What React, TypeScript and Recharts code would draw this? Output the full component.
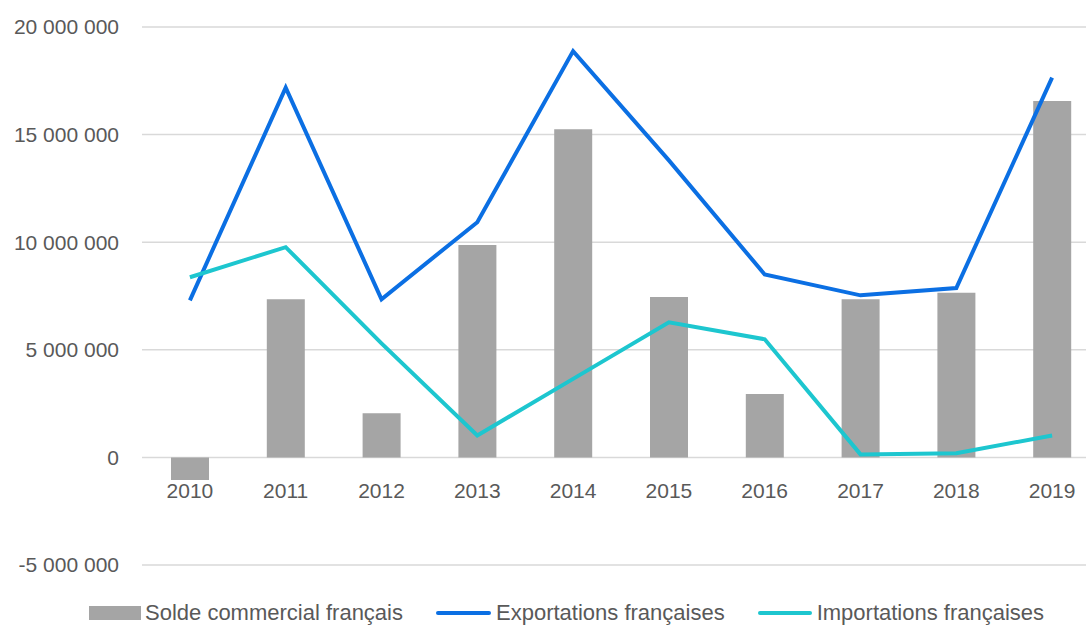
import React from "react";
import { ComposedChart, Bar, Line, XAxis, YAxis, CartesianGrid, Legend } from "recharts";

const years = ["2010", "2011", "2012", "2013", "2014", "2015", "2016", "2017", "2018", "2019"];
const solde = [-1050000, 7350000, 2050000, 9870000, 15250000, 7450000, 2950000, 7350000, 7650000, 16560000];
const exportations = [7300000, 17180000, 7350000, 10930000, 18880000, 13800000, 8500000, 7530000, 7870000, 17650000];
const importations = [8370000, 9770000, 5300000, 1020000, 3650000, 6280000, 5490000, 140000, 190000, 1020000];
const yTicks = [-5000000, 0, 5000000, 10000000, 15000000, 20000000];
const seriesNames = ["Solde commercial français", "Exportations françaises", "Importations françaises"];

const COLORS = { solde: "#A5A5A5", exp: "#0B6FE3", imp: "#1DC6CF" };
const TEXT = "#595959";
const FONT = "'Liberation Sans', Arial, sans-serif";

const data = years.map((y, i) => ({
  year: y,
  solde: solde[i],
  exp: exportations[i],
  imp: importations[i],
}));

const fmt = (v: number) => {
  const s = Math.abs(v).toString().replace(/\B(?=(\d{3})+(?!\d))/g, " ");
  return (v < 0 ? "-" : "") + s;
};

const renderYearTick = (props: any) => {
  const { x, y, payload } = props;
  return (
    <g>
      <text x={x} y={y - 75} textAnchor="middle" dominantBaseline="central" fill={TEXT} fontSize={21} fontFamily={FONT}>
        {payload.value}
      </text>
    </g>
  );
};

const LegendContent = () => (
  <div style={{ display: "flex", alignItems: "center", gap: 33, fontFamily: FONT, fontSize: 22, color: TEXT, whiteSpace: "nowrap", lineHeight: "24px" }}>
    <div style={{ display: "flex", alignItems: "center" }}>
      <span style={{ display: "inline-block", width: 52, height: 14, background: COLORS.solde, marginRight: 4 }} />
      <span>{seriesNames[0]}</span>
    </div>
    <div style={{ display: "flex", alignItems: "center" }}>
      <span style={{ display: "inline-block", width: 55, height: 4, borderRadius: 2, background: COLORS.exp, marginRight: 5 }} />
      <span>{seriesNames[1]}</span>
    </div>
    <div style={{ display: "flex", alignItems: "center" }}>
      <span style={{ display: "inline-block", width: 54, height: 4, borderRadius: 2, background: COLORS.imp, marginRight: 5 }} />
      <span>{seriesNames[2]}</span>
    </div>
  </div>
);

export default function App() {
  return (
    <div style={{ position: "absolute", left: 0, top: 0, width: 1086, height: 626, overflow: "hidden", background: "#fff" }}>
      <ComposedChart width={1110} height={626} data={data} margin={{ top: 27, right: 10, left: 0, bottom: 31 }} barCategoryGap="30%">
        <CartesianGrid vertical={false} stroke="#D9D9D9" strokeWidth={1.5} />
        <XAxis dataKey="year" axisLine={false} tickLine={false} tickSize={0} tickMargin={0} height={30} tick={renderYearTick} interval={0} />
        <YAxis
          domain={[-5000000, 20000000]}
          ticks={yTicks}
          width={142}
          axisLine={false}
          tickLine={false}
          tickSize={0}
          tickMargin={23}
          tickFormatter={fmt}
          tick={{ fill: TEXT, fontSize: 21, fontFamily: FONT }}
        />
        <Bar dataKey="solde" name={seriesNames[0]} fill={COLORS.solde} barSize={38} isAnimationActive={false} />
        <Line dataKey="exp" name={seriesNames[1]} type="linear" stroke={COLORS.exp} strokeWidth={4} dot={false} isAnimationActive={false} />
        <Line dataKey="imp" name={seriesNames[2]} type="linear" stroke={COLORS.imp} strokeWidth={4} dot={false} isAnimationActive={false} />
        <Legend
          layout="horizontal"
          verticalAlign="middle"
          align="center"
          content={<LegendContent />}
          wrapperStyle={{ left: 89, top: 601, width: "auto", height: 24 }}
        />
      </ComposedChart>
    </div>
  );
}
